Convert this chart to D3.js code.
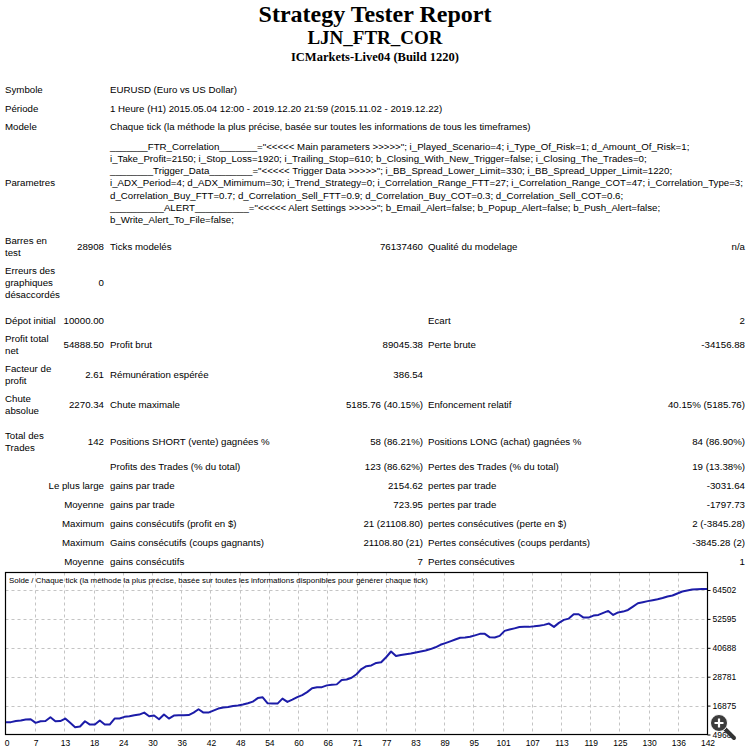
<!DOCTYPE html>
<html>
<head>
<meta charset="utf-8">
<script src="https://cdn.jsdelivr.net/npm/d3@7"></script>
<style>
body { margin: 0; background: #fff; }
svg text { font-family: "Liberation Sans", Arial, sans-serif; fill: #000; }
</style>
</head>
<body>
<div id="report"></div>
<script>
// report header
const reportTitle = "Strategy Tester Report"
const expertName = "LJN_FTR_COR"
const serverName = "ICMarkets-Live04 (Build 1220)"

// top info block
const infoLabels = ["Symbole", "Période", "Modele"]
const infoValues = [
    "EURUSD (Euro vs US Dollar)",
    "1 Heure (H1) 2015.05.04 12:00 - 2019.12.20 21:59 (2015.11.02 - 2019.12.22)",
    "Chaque tick (la méthode la plus précise, basée sur toutes les informations de tous les timeframes)"
]
const paramLabel = "Parametres"
const paramLines = [
    "_______FTR_Correlation_______=\"<<<<< Main parameters >>>>>\"; i_Played_Scenario=4; i_Type_Of_Risk=1; d_Amount_Of_Risk=1;",
    "i_Take_Profit=2150; i_Stop_Loss=1920; i_Trailing_Stop=610; b_Closing_With_New_Trigger=false; i_Closing_The_Trades=0;",
    "________Trigger_Data________=\"<<<<< Trigger Data >>>>>\"; i_BB_Spread_Lower_Limit=330; i_BB_Spread_Upper_Limit=1220;",
    "i_ADX_Period=4; d_ADX_Mimimum=30; i_Trend_Strategy=0; i_Correlation_Range_FTT=27; i_Correlation_Range_COT=47; i_Correlation_Type=3;",
    "d_Correlation_Buy_FTT=0.7; d_Correlation_Sell_FTT=0.9; d_Correlation_Buy_COT=0.3; d_Correlation_Sell_COT=0.6;",
    "__________ALERT__________=\"<<<<< Alert Settings >>>>>\"; b_Email_Alert=false; b_Popup_Alert=false; b_Push_Alert=false;",
    "b_Write_Alert_To_File=false;"
]

// results table, null = empty spacer row
const statRows = [
    ["Barres en\ntest", "28908", "Ticks modelés", "76137460", "Qualité du modelage", "n/a"],
    ["Erreurs des\ngraphiques\ndésaccordés", "0", "", "", "", ""],
    null,
    ["Dépot initial", "10000.00", "", "", "Ecart", "2"],
    ["Profit total\nnet", "54888.50", "Profit brut", "89045.38", "Perte brute", "-34156.88"],
    ["Facteur de\nprofit", "2.61", "Rémunération espérée", "386.54", "", ""],
    ["Chute\nabsolue", "2270.34", "Chute maximale", "5185.76 (40.15%)", "Enfoncement relatif", "40.15% (5185.76)"],
    null,
    ["Total des\nTrades", "142", "Positions SHORT (vente) gagnées %", "58 (86.21%)", "Positions LONG (achat) gagnées %", "84 (86.90%)"],
    ["", "", "Profits des Trades (% du total)", "123 (86.62%)", "Pertes des Trades (% du total)", "19 (13.38%)"],
    ["", "Le plus large", "gains par trade", "2154.62", "pertes par trade", "-3031.64"],
    ["", "Moyenne", "gains par trade", "723.95", "pertes par trade", "-1797.73"],
    ["", "Maximum", "gains consécutifs (profit en $)", "21 (21108.80)", "pertes consécutives (perte en $)", "2 (-3845.28)"],
    ["", "Maximum", "Gains consécutifs (coups gagnants)", "21108.80 (21)", "Pertes consécutives (coups perdants)", "-3845.28 (2)"],
    ["", "Moyenne", "gains consécutifs", "7", "Pertes consécutives", "1"]
]

// balance graph
const chartTitle = "Solde / Chaque tick (la méthode la plus précise, basée sur toutes les informations disponibles pour générer chaque tick)"
const yTickValues = [64502, 52595, 40688, 28781, 16875, 4968]
const xTickLabels = [0, 7, 13, 18, 24, 30, 36, 42, 48, 54, 60, 66, 71, 77, 83, 89, 95, 101, 107, 113, 119, 125, 130, 136, 142]
const balance = [
    10000, 10060, 10510, 10720, 11130, 11250, 9770, 10430, 10510, 12070,
    10430, 10510, 11540, 9770, 7970, 8250, 10430, 9070, 9070, 10720,
    9070, 9070, 11540, 11540, 12240, 12480, 12890, 13180, 14000, 12480,
    12770, 11250, 13180, 11540, 12770, 12890, 12890, 12980, 14000, 15360,
    14000, 14000, 14820, 15640, 16050, 16340, 16750, 16880, 17290, 17820,
    18520, 19960, 20280, 17820, 17700, 17700, 19750, 18400, 19340, 20370,
    21190, 22420, 24060, 24390, 24470, 25210, 25500, 25620, 27430, 27630,
    28370, 29810, 31940, 33090, 33420, 34450, 34740, 36790, 39170, 37280,
    37730, 38020, 38350, 38760, 39170, 39580, 40160, 40900, 41920, 42620,
    43360, 44100, 44800, 44920, 45210, 45820, 46440, 46440, 45000, 44920,
    45620, 47670, 48200, 48700, 49230, 49310, 49310, 49520, 49810, 50130,
    50670, 49310, 50960, 52190, 52720, 54530, 54530, 53130, 53130, 53950,
    54240, 55060, 55880, 54240, 55270, 55600, 56290, 57650, 59040, 59460,
    59910, 60320, 60730, 61220, 61840, 62250, 63070, 63890, 64300, 64710,
    64800, 64870, 64888.5
]

const svg = d3.select("#report").append("svg")
    .attr("width", 750)
    .attr("height", 750)

// titles
svg.append("text").text(reportTitle)
    .attr("x", 375).attr("y", 22)
    .attr("text-anchor", "middle")
    .style("font-family", "'Liberation Serif', serif")
    .style("font-weight", "bold").style("font-size", "24px")
svg.append("text").text(expertName)
    .attr("x", 375).attr("y", 44)
    .attr("text-anchor", "middle")
    .style("font-family", "'Liberation Serif', serif")
    .style("font-weight", "bold").style("font-size", "19px")
svg.append("text").text(serverName)
    .attr("x", 375).attr("y", 61)
    .attr("text-anchor", "middle")
    .style("font-family", "'Liberation Serif', serif")
    .style("font-weight", "bold").style("font-size", "12.5px")

// pick body font size so the Modele line has the same width as in the report
let probe = svg.append("text").style("font-size", "10px").text(infoValues[2])
let bodySize = 10 * 421 / probe.node().getComputedTextLength()
probe.remove()

let body = svg.append("g").style("font-size", bodySize + "px")

function cell(x, cy, txt, anchor) {
    let lines = txt.split("\n")
    lines.forEach((l, k) => {
        body.append("text")
            .attr("x", x)
            .attr("y", cy + (k - (lines.length - 1) / 2) * 12)
            .attr("dy", "0.35em")
            .attr("text-anchor", anchor)
            .text(l)
    })
}

// info block
infoLabels.forEach((l, i) => {
    let cy = 90 + i * 18.5
    cell(5, cy, l, "start")
    cell(110, cy, infoValues[i], "start")
})

// parameters
let paramTop = 137
let paramH = paramLines.length * 12.3 + 6
cell(5, paramTop + paramH / 2, paramLabel, "start")
paramLines.forEach((l, k) => {
    cell(110, paramTop + 9.2 + k * 12.3, l, "start")
})

// statistics
let colX = [5, 104, 110, 423, 428, 745]
let colAnchor = ["start", "end", "start", "end", "start", "end"]
let rowTop = 232
statRows.forEach(r => {
    if (r === null) { rowTop += 7; return }
    let n = d3.max(r, c => c.split("\n").length)
    let h = Math.max(19, n * 12 + 6)
    let cy = rowTop + h / 2
    r.forEach((c, j) => {
        if (c !== "") cell(colX[j], cy, c, colAnchor[j])
    })
    rowTop += h
})

// balance chart
let chart = {left: 5.5, right: 707.5, top: 572.5, bottom: 734.5}

let x = d3.scaleLinear()
    .domain([0, balance.length - 1])
    .range([6, 707])
let y = d3.scaleLinear()
    .domain([yTickValues[yTickValues.length - 1], yTickValues[0]])
    .range([734.5, 590])

let g = svg.append("g")

// grid
let gridX = d3.range(1, xTickLabels.length - 1).map(i => i * (balance.length - 1) / (xTickLabels.length - 1))
g.selectAll(".vgrid").data(gridX).enter().append("line")
    .attr("class", "vgrid")
    .attr("x1", d => Math.round(x(d)) + 0.5).attr("x2", d => Math.round(x(d)) + 0.5)
    .attr("y1", chart.top).attr("y2", chart.bottom)
    .attr("stroke", "#c4c4c4").attr("stroke-dasharray", "3,3")
g.selectAll(".hgrid").data(yTickValues.slice(0, -1)).enter().append("line")
    .attr("class", "hgrid")
    .attr("x1", chart.left).attr("x2", chart.right)
    .attr("y1", d => Math.round(y(d)) + 0.5).attr("y2", d => Math.round(y(d)) + 0.5)
    .attr("stroke", "#c4c4c4").attr("stroke-dasharray", "3,3")

// frame
g.append("rect")
    .attr("x", chart.left).attr("y", chart.top)
    .attr("width", chart.right - chart.left).attr("height", chart.bottom - chart.top)
    .attr("fill", "none").attr("stroke", "#000").attr("stroke-width", 1.2)

g.append("text").text(chartTitle)
    .attr("x", 9).attr("y", 580).attr("dy", "0.35em")
    .style("font-size", "7.9px")

// balance line
let line = d3.line()
    .x((d, i) => x(i))
    .y(d => y(d))
g.append("path")
    .datum(balance)
    .attr("d", line)
    .attr("fill", "none")
    .attr("stroke", "#1c1ca8")
    .attr("stroke-width", 2)
    .attr("stroke-linejoin", "round")

// right axis
let yAxis = d3.axisRight(y)
    .tickValues(yTickValues)
    .tickFormat(d3.format("d"))
    .tickSize(3)
    .tickPadding(2)
g.append("g")
    .attr("transform", `translate(${chart.right},0)`)
    .call(yAxis)
    .call(a => a.select(".domain").remove())
    .call(a => a.selectAll("text").style("font-family", "'Liberation Sans', Arial, sans-serif").style("font-size", "8.5px"))

// bottom labels
g.selectAll(".xlab").data(xTickLabels).enter().append("text")
    .attr("class", "xlab")
    .attr("x", (d, i) => x(i * (balance.length - 1) / (xTickLabels.length - 1)) + 1)
    .attr("y", 743).attr("dy", "0.35em")
    .attr("text-anchor", "middle")
    .style("font-size", "8.5px")
    .text(d => d)

// zoom icon overlay from the forum picture
let icon = svg.append("g")
icon.append("line")
    .attr("x1", 724).attr("y1", 728).attr("x2", 734).attr("y2", 738)
    .attr("stroke", "#333").attr("stroke-width", 4).attr("stroke-linecap", "round")
icon.append("circle")
    .attr("cx", 719).attr("cy", 723).attr("r", 8.5)
    .attr("fill", "#3c3c3c").attr("stroke", "#fff").attr("stroke-width", 1)
icon.append("path")
    .attr("d", "M714.5,723H723.5M719,718.5V727.5")
    .attr("stroke", "#fff").attr("stroke-width", 2.2)
</script>
</body>
</html>
